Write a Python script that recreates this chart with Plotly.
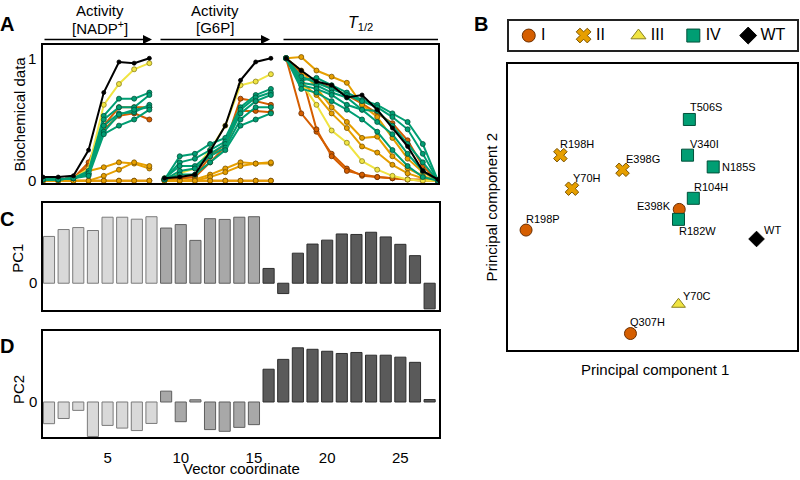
import plotly.graph_objects as go

FONT = "Arial, Liberation Sans, sans-serif"
W, H = 800, 480

# ---- Panel A: normalised biochemical data (x = vector coordinate) ----
x_nadp = [1, 2, 3, 4, 5, 6, 7, 8]
x_g6p = [9, 10, 11, 12, 13, 14, 15, 16]
x_thalf = [17, 18, 19, 20, 21, 22, 23, 24, 25, 26, 27]

variants = ["R198P", "E398K", "Q307H", "R198H", "Y70H", "E398G", "Y70C",
            "T506S", "V340I", "N185S", "R104H", "R182W", "WT"]
variant_class = ["I", "I", "I", "II", "II", "II", "III",
                 "IV", "IV", "IV", "IV", "IV", "WT"]

nadp = {
    "R198P": [0.0, 0.0, 0.0, 0.0, 0.0, 0.0, 0.0, 0.0],
    "E398K": [0.01, 0.01, 0.02, 0.15, 0.45, 0.60, 0.60, 0.60],
    "Q307H": [0.01, 0.01, 0.02, 0.12, 0.42, 0.53, 0.55, 0.50],
    "R198H": [0.01, 0.01, 0.02, 0.08, 0.11, 0.15, 0.14, 0.10],
    "Y70H": [0.0, 0.0, 0.0, 0.0, 0.04, 0.09, 0.15, 0.12],
    "E398G": [0.0, 0.0, 0.0, 0.0, 0.0, 0.0, 0.0, 0.0],
    "Y70C": [0.01, 0.01, 0.02, 0.10, 0.62, 0.79, 0.91, 0.96],
    "T506S": [0.01, 0.01, 0.02, 0.08, 0.53, 0.67, 0.67, 0.72],
    "V340I": [0.01, 0.01, 0.02, 0.06, 0.50, 0.60, 0.60, 0.70],
    "N185S": [0.01, 0.01, 0.02, 0.05, 0.45, 0.55, 0.56, 0.62],
    "R104H": [0.01, 0.01, 0.02, 0.06, 0.40, 0.54, 0.58, 0.60],
    "R182W": [0.01, 0.01, 0.02, 0.04, 0.38, 0.45, 0.50, 0.58],
    "WT": [0.03, 0.03, 0.04, 0.25, 0.72, 0.97, 0.96, 1.0],
}

g6p = {
    "R198P": [0.0, 0.0, 0.0, 0.0, 0.0, 0.0, 0.0, 0.0],
    "E398K": [0.01, 0.02, 0.03, 0.20, 0.30, 0.67, 0.65, 0.62],
    "Q307H": [0.01, 0.02, 0.03, 0.15, 0.28, 0.57, 0.57, 0.56],
    "R198H": [0.0, 0.0, 0.01, 0.05, 0.10, 0.15, 0.14, 0.14],
    "Y70H": [0.0, 0.0, 0.0, 0.03, 0.07, 0.12, 0.14, 0.15],
    "E398G": [0.0, 0.0, 0.0, 0.0, 0.0, 0.0, 0.0, 0.0],
    "Y70C": [0.02, 0.06, 0.10, 0.25, 0.45, 0.78, 0.81, 0.87],
    "T506S": [0.01, 0.20, 0.22, 0.30, 0.35, 0.60, 0.70, 0.75],
    "V340I": [0.01, 0.15, 0.18, 0.25, 0.32, 0.58, 0.68, 0.72],
    "N185S": [0.02, 0.12, 0.12, 0.22, 0.30, 0.55, 0.65, 0.70],
    "R104H": [0.01, 0.08, 0.10, 0.20, 0.27, 0.50, 0.60, 0.60],
    "R182W": [0.01, 0.05, 0.05, 0.15, 0.25, 0.45, 0.50, 0.55],
    "WT": [0.02, 0.03, 0.05, 0.24, 0.45, 0.82, 0.97, 1.0],
}

thalf = {
    "R198P": [1.0, 0.55, 0.40, 0.22, 0.10, 0.04, 0.03, 0.02, 0.01, 0.01, 0.0],
    "E398K": [1.0, 0.85, 0.80, 0.76, 0.70, 0.63, 0.55, 0.47, 0.33, 0.12, 0.0],
    "Q307H": [1.0, 0.88, 0.42, 0.20, 0.08, 0.05, 0.03, 0.02, 0.01, 0.0, 0.0],
    "R198H": [1.0, 1.01, 0.90, 0.85, 0.80, 0.62, 0.52, 0.35, 0.18, 0.07, 0.0],
    "Y70H": [1.0, 0.90, 0.76, 0.60, 0.48, 0.35, 0.36, 0.20, 0.10, 0.04, 0.0],
    "E398G": [1.0, 0.80, 0.70, 0.55, 0.43, 0.28, 0.23, 0.13, 0.06, 0.02, 0.0],
    "Y70C": [1.0, 0.80, 0.62, 0.41, 0.31, 0.16, 0.09, 0.04, 0.01, 0.0, 0.0],
    "T506S": [1.0, 0.82, 0.84, 0.78, 0.72, 0.66, 0.62, 0.55, 0.48, 0.30, 0.0],
    "V340I": [1.0, 0.85, 0.80, 0.75, 0.70, 0.65, 0.60, 0.52, 0.42, 0.22, 0.0],
    "N185S": [1.0, 0.80, 0.78, 0.72, 0.68, 0.58, 0.57, 0.45, 0.30, 0.15, 0.0],
    "R104H": [1.0, 0.78, 0.75, 0.70, 0.62, 0.58, 0.48, 0.38, 0.22, 0.08, 0.0],
    "R182W": [1.0, 0.75, 0.72, 0.65, 0.58, 0.50, 0.40, 0.25, 0.12, 0.03, 0.0],
    "WT": [1.0, 0.90, 0.81, 0.78, 0.68, 0.70, 0.58, 0.43, 0.28, 0.08, 0.01],
}

# ---- Panel B: PCA scores ----
pc1_score = [-3.50, 0.74, -0.61, -2.55, -2.23, -0.83, 0.72,
             1.02, 0.97, 1.68, 1.13, 0.72, 2.88]
pc2_score = [-0.65, -0.07, -3.55, 1.45, 0.51, 1.04, -2.73,
             2.45, 1.45, 1.12, 0.24, -0.35, -0.90]
legend_classes = ["I", "II", "III", "IV", "WT"]

# ---- Panels C/D: PC loadings per vector coordinate ----
coord = list(range(1, 28))
pc1_loading = [0.190, 0.218, 0.226, 0.214, 0.268, 0.268, 0.260, 0.270,
               0.224, 0.238, 0.174, 0.262, 0.259, 0.268, 0.270,
               0.060, -0.042, 0.122, 0.159, 0.175, 0.200, 0.198, 0.207,
               0.188, 0.158, 0.112, -0.104]
pc2_loading = [-0.088, -0.067, -0.034, -0.140, -0.095, -0.106, -0.116, -0.087,
               0.044, -0.080, 0.009, -0.112, -0.119, -0.103, -0.092,
               0.133, 0.173, 0.220, 0.214, 0.206, 0.197, 0.201, 0.190,
               0.190, 0.182, 0.161, 0.010]
coord_group = ["nadp"] * 8 + ["g6p"] * 7 + ["thalf"] * 12

# styles
class_color = {"I": "#D55E00", "II": "#E69F00", "III": "#F0E442",
               "IV": "#009E73", "WT": "#000000"}
class_edge = {"I": "#6b2f00", "II": "#7a5300", "III": "#8a8020",
              "IV": "#00503a", "WT": "#000000"}
class_symbol = {"I": "circle", "II": "x", "III": "triangle-up",
                "IV": "square", "WT": "diamond"}
# label offset from the marker in pixels (dx, dy up), anchor side
label_style = {"R198P": (-2, 11, "left"), "E398K": (-6, 3, "right"),
               "Q307H": (-2, 12, "left"), "R198H": (-2, 11, "left"),
               "Y70H": (-1, 11, "left"), "E398G": (1, 11, "left"),
               "Y70C": (2, 8, "left"), "T506S": (-1, 12, "left"),
               "V340I": (0, 11, "left"), "N185S": (7, 0, "left"),
               "R104H": (-1, 11, "left"), "R182W": (-2, -12, "left"),
               "WT": (5, 9, "left")}
bar_fill = {"nadp": "#d9d9d9", "g6p": "#a8a8a8", "thalf": "#5a5a5a"}
bar_edge = {"nadp": "#7a7a7a", "g6p": "#5e5e5e", "thalf": "#2e2e2e"}


def px_x(p):
    return p / W


def px_y(p):
    return 1 - p / H


fig = go.Figure()

# Panel A lines
for v, c in zip(variants, variant_class):
    xs = x_nadp + [None] + x_g6p + [None] + x_thalf
    ys = nadp[v] + [None] + g6p[v] + [None] + thalf[v]
    col = class_color[c]
    fig.add_trace(go.Scatter(
        x=xs, y=ys, mode="lines+markers", connectgaps=False, showlegend=False,
        line=dict(color=col, width=2),
        marker=dict(size=4 if c == "WT" else 5, color=col,
                    line=dict(color=class_edge[c], width=0.8)),
        xaxis="x", yaxis="y", hoverinfo="skip"))

# Panel B scatter, one trace per class
for c in legend_classes:
    idx = [i for i, k in enumerate(variant_class) if k == c]
    fig.add_trace(go.Scatter(
        x=[pc1_score[i] for i in idx], y=[pc2_score[i] for i in idx],
        mode="markers", showlegend=False,
        marker=dict(symbol=class_symbol[c], size=12, color=class_color[c],
                    line=dict(color=class_edge[c], width=1)),
        xaxis="x4", yaxis="y4", hoverinfo="skip"))

# Panel B legend drawn on its own small axis
fig.add_trace(go.Scatter(
    x=list(range(len(legend_classes))), y=[0] * len(legend_classes),
    text=["\u2009" + c for c in legend_classes], mode="markers+text",
    textposition="middle right", showlegend=False,
    textfont=dict(family=FONT, size=16, color="black"),
    marker=dict(symbol=[class_symbol[c] for c in legend_classes], size=13,
                color=[class_color[c] for c in legend_classes],
                line=dict(color=[class_edge[c] for c in legend_classes], width=1)),
    xaxis="x5", yaxis="y5", hoverinfo="skip"))

# Panels C and D bars
for vals, ax, ay in [(pc1_loading, "x2", "y2"), (pc2_loading, "x3", "y3")]:
    fig.add_trace(go.Bar(
        x=coord, y=vals, width=0.76, showlegend=False,
        marker=dict(color=[bar_fill[g] for g in coord_group],
                    line=dict(color=[bar_edge[g] for g in coord_group], width=1)),
        xaxis=ax, yaxis=ay, hoverinfo="skip"))

frame = dict(showline=True, mirror=True, linecolor="black", linewidth=1.5,
             showgrid=False, zeroline=False)
thick = dict(showline=True, mirror=True, linecolor="black", linewidth=2,
             showgrid=False, zeroline=False, showticklabels=False, ticks="")
tickfont = dict(family=FONT, size=15, color="black")

fig.update_layout(
    width=W, height=H, margin=dict(l=0, r=0, t=0, b=0),
    paper_bgcolor="white", plot_bgcolor="white",
    font=dict(family=FONT, color="black"),
    showlegend=False,
    xaxis=dict(domain=[px_x(43), px_x(438)], range=[1, 27], showticklabels=False,
               ticks="", **frame),
    yaxis=dict(domain=[px_y(185), px_y(46)], range=[-0.016, 1.105],
               tickvals=[0, 1], ticks="outside", ticklen=2,
               tickcolor="rgba(0,0,0,0)", tickfont=tickfont, **frame),
    xaxis2=dict(domain=[px_x(43), px_x(439)], range=[0.59, 27.64],
                showticklabels=False, ticks="", anchor="y2", **frame),
    yaxis2=dict(domain=[px_y(314), px_y(206)], range=[-0.109, 0.324],
                tickvals=[0], ticks="outside", ticklen=1,
                tickcolor="rgba(0,0,0,0)", tickfont=tickfont, anchor="x2", **frame),
    xaxis3=dict(domain=[px_x(43), px_x(439)], range=[0.59, 27.64],
                tickvals=[5, 10, 15, 20, 25], ticks="outside", ticklen=6,
                tickcolor="rgba(0,0,0,0)", tickfont=tickfont, anchor="y3", **frame),
    yaxis3=dict(domain=[px_y(443), px_y(335)], range=[-0.144, 0.289],
                tickvals=[0], ticks="outside", ticklen=1,
                tickcolor="rgba(0,0,0,0)", tickfont=tickfont, anchor="x3", **frame),
    xaxis4=dict(domain=[px_x(508), px_x(797)], range=[-4, 4], anchor="y4", **thick),
    yaxis4=dict(domain=[px_y(354), px_y(65)], range=[-4, 4], anchor="x4", **thick),
    xaxis5=dict(domain=[px_x(509), px_x(797)], range=[-0.36, 4.89], anchor="y5",
                showline=True, mirror=True, linecolor="#222", linewidth=1.5,
                showgrid=False, zeroline=False, showticklabels=False, ticks=""),
    yaxis5=dict(domain=[px_y(51), px_y(21)], range=[-1, 1], anchor="x5",
                showline=True, mirror=True, linecolor="#222", linewidth=1.5,
                showgrid=False, zeroline=False, showticklabels=False, ticks=""),
)

ann = []


def text(x, y, s, size=15, angle=0, bold=False):
    # glyphs sit a little above the centre of plotly's text box, so nudge
    if angle == 0:
        y += 4
    else:
        x += 2
    if bold:
        s = "<b>" + s + "</b>"
    ann.append(dict(x=px_x(x), y=px_y(y), xref="paper", yref="paper", text=s,
                    showarrow=False, textangle=angle, xanchor="center",
                    yanchor="middle", font=dict(family=FONT, size=size, color="black")))


# variant labels in panel B
for v, x, y in zip(variants, pc1_score, pc2_score):
    dx, dy, side = label_style[v]
    ann.append(dict(x=x, y=y, xref="x4", yref="y4", text=v, showarrow=False,
                    xanchor=side, yanchor="middle", xshift=dx, yshift=dy,
                    font=dict(family=FONT, size=11, color="black")))

# panel letters
text(7, 20, "A", 20, bold=True)
text(481, 20, "B", 20, bold=True)
text(7, 218, "C", 20, bold=True)
text(7, 346, "D", 20, bold=True)

# headers above panel A
text(100, 7, "Activity", 15)
text(100, 24, "[NADP<sup>+</sup>]", 15)
text(215, 7, "Activity", 15)
text(215, 24, "[G6P]", 15)
text(360, 20, "<i>T</i><sub>1/2</sub>", 16)

# axis titles
text(18, 116, "Biochemical data", 15, angle=-90)
text(16, 262, "PC1", 15, angle=-90)
text(16, 395, "PC2", 15, angle=-90)
text(241, 470, "Vector coordinate", 15)
text(655, 370, "Principal component 1", 15)
text(489, 210, "Principal component 2", 15, angle=-90)

# arrows over the assay blocks
for x0, x1, head in [(43, 152, 2), (159, 270, 2), (282, 438, 0)]:
    ann.append(dict(x=px_x(x1), y=px_y(40), xref="paper", yref="paper",
                    ax=x0 - x1, ay=0, text="", showarrow=True,
                    arrowhead=head, arrowsize=1.2, arrowwidth=1.5,
                    arrowcolor="black"))

fig.update_layout(annotations=ann)

fig.write_html("out.html", config={"displayModeBar": False},
               post_script="document.body.style.margin='0';"
                           "document.body.style.overflow='hidden';")
